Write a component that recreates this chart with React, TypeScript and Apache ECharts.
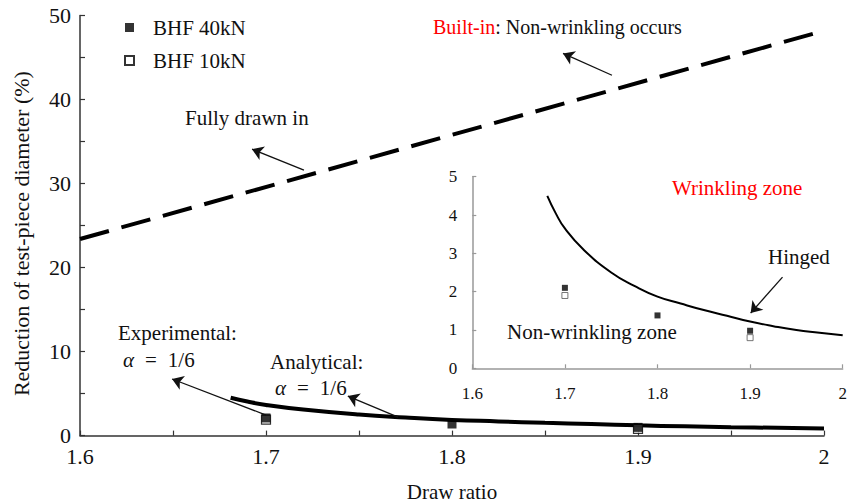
import React, { useEffect, useRef } from 'react';
import * as echarts from 'echarts';

// ---- data ----
const builtInX = [1.6, 2.0];
const builtInY = [23.4, 48.2];

const analyticX = [1.681, 1.69, 1.7, 1.72, 1.75, 1.775, 1.8, 1.825, 1.85, 1.875, 1.9, 1.925, 1.95, 1.975, 2.0];
const analyticY = [4.5, 4.05, 3.65, 3.1, 2.5, 2.15, 1.87, 1.69, 1.52, 1.37, 1.22, 1.1, 1.0, 0.93, 0.86];

const bhf40X = [1.7, 1.8, 1.9];
const bhf40Y = [2.1, 1.38, 0.98];
const bhf10X = [1.7, 1.9];
const bhf10Y = [1.9, 0.8];

const seriesNames = ['BHF 40kN', 'BHF 10kN'];
const xAxisTitle = 'Draw ratio';
const yAxisTitle = 'Reduction of test-piece diameter (%)';

// annotation arrows (data coordinates): [fromX, fromY, toX, toY]
const mainArrows = [
  [1.7204, 31.6, 1.6925, 34.1],
  [1.886, 42.9, 1.8597, 45.5],
  [1.7, 2.45, 1.6495, 6.74],
  [1.771, 2.2, 1.744, 4.7],
];
const insetArrows = [[1.935, 2.38, 1.9006, 1.44]];

const FONT = "'Liberation Serif', 'Times New Roman', serif";

const zip = (xs: number[], ys: number[]) => xs.map((x, i) => [x, ys[i]]);
const fmtX = (v: number) => {
  const r = Math.round(v * 100);
  return r % 10 === 0 ? String(r / 100) : '';
};

export default function App() {
  const ref = useRef<HTMLDivElement>(null);
  useEffect(() => {
    if (!ref.current) return;
    const chart = echarts.init(ref.current, null, { renderer: 'svg' });
    const axisCol = '#333';
    const insetCol = '#999';
    const arrowML = (arr: number[][]) => ({
      silent: true,
      symbol: ['none', 'arrow'],
      symbolSize: 11,
      label: { show: false },
      itemStyle: { color: '#111' },
      lineStyle: { color: '#111', width: 1.3, type: 'solid' },
      emphasis: { disabled: true },
      data: arr.map((a) => [{ coord: [a[0], a[1]] }, { coord: [a[2], a[3]] }]),
    });
    const txt = (text: string, x: number, y: number, extra: any = {}) => ({
      type: 'text',
      x,
      y,
      silent: true,
      style: {
        text,
        fill: '#111',
        font: `21px ${FONT}`,
        textAlign: 'left',
        textVerticalAlign: 'middle',
        ...extra,
      },
    });
    const alphaRich = {
      i: { font: `italic 21px ${FONT}`, fill: '#111' },
      e: { font: `21px ${FONT}`, fill: '#111', padding: [0, 11, 0, 11] },
    };
    chart.setOption({
      animation: false,
      backgroundColor: '#fff',
      textStyle: { fontFamily: FONT },
      grid: [
        { left: 80, right: 38, top: 15.6, bottom: 67.4, outerBoundsMode: 'none', containLabel: false },
        { left: 472.3, right: 19.3, top: 176.7, bottom: 134.7, outerBoundsMode: 'none', containLabel: false },
      ],
      legend: {
        data: seriesNames,
        orient: 'vertical',
        left: 119,
        top: 12,
        itemWidth: 9,
        itemHeight: 9,
        itemGap: 12,
        selectedMode: false,
        textStyle: { fontFamily: FONT, fontSize: 21, color: '#111', padding: [0, 0, 0, 14] },
      },
      xAxis: [
        {
          gridIndex: 0,
          type: 'value',
          min: 1.6,
          max: 2.0,
          interval: 0.05,
          name: xAxisTitle,
          nameLocation: 'middle',
          nameGap: 46,
          nameTextStyle: { fontFamily: FONT, fontSize: 21, color: '#111' },
          splitLine: { show: false },
          axisLine: { lineStyle: { color: axisCol, width: 1.5 } },
          axisTick: { inside: true, length: 5, lineStyle: { color: axisCol, width: 1.2 } },
          axisLabel: { formatter: fmtX, margin: 10, fontSize: 22, color: '#111', fontFamily: FONT },
        },
        {
          gridIndex: 1,
          type: 'value',
          min: 1.6,
          max: 2.0,
          interval: 0.1,
          splitLine: { show: false },
          axisLine: { lineStyle: { color: insetCol, width: 1.5 } },
          axisTick: { inside: true, length: 4, lineStyle: { color: insetCol, width: 1.2 } },
          axisLabel: { formatter: fmtX, margin: 17, fontSize: 17, color: '#111', fontFamily: FONT },
        },
      ],
      yAxis: [
        {
          gridIndex: 0,
          type: 'value',
          min: 0,
          max: 50,
          interval: 5,
          name: yAxisTitle,
          nameLocation: 'middle',
          nameGap: 48,
          nameTextStyle: { fontFamily: FONT, fontSize: 22, color: '#111', padding: [0, 16, 0, 0] },
          splitLine: { show: false },
          axisLine: { show: true, lineStyle: { color: axisCol, width: 1.5 } },
          axisTick: { show: true, inside: true, length: 5, lineStyle: { color: axisCol, width: 1.2 } },
          axisLabel: {
            formatter: (v: number) => (v % 10 === 0 ? String(v) : ''),
            margin: 9,
            fontSize: 22,
            color: '#111',
            fontFamily: FONT,
          },
        },
        {
          gridIndex: 1,
          type: 'value',
          min: 0,
          max: 5,
          interval: 1,
          splitLine: { show: false },
          axisLine: { show: true, lineStyle: { color: insetCol, width: 1.5 } },
          axisTick: { show: true, inside: true, length: 4, lineStyle: { color: insetCol, width: 1.2 } },
          axisLabel: { margin: 15, fontSize: 17, color: '#111', fontFamily: FONT },
        },
      ],
      series: [
        {
          name: 'Built-in',
          type: 'line',
          xAxisIndex: 0,
          yAxisIndex: 0,
          data: zip(builtInX, builtInY),
          showSymbol: false,
          symbol: 'none',
          lineStyle: { color: '#000', width: 4, type: [30, 13], cap: 'butt' },
          markLine: arrowML(mainArrows),
          z: 2,
        },
        {
          name: 'Analytical',
          type: 'line',
          xAxisIndex: 0,
          yAxisIndex: 0,
          data: zip(analyticX, analyticY),
          smooth: true,
          showSymbol: false,
          symbol: 'none',
          lineStyle: { color: '#000', width: 4 },
          z: 2,
        },
        {
          name: seriesNames[1],
          type: 'scatter',
          xAxisIndex: 0,
          yAxisIndex: 0,
          data: zip(bhf10X, bhf10Y),
          symbol: 'rect',
          symbolSize: 9,
          itemStyle: { color: '#fff', borderColor: '#000', borderWidth: 1.2 },
          z: 3,
        },
        {
          name: seriesNames[0],
          type: 'scatter',
          xAxisIndex: 0,
          yAxisIndex: 0,
          data: zip(bhf40X, bhf40Y),
          symbol: 'rect',
          symbolSize: 9,
          itemStyle: { color: '#000' },
          z: 4,
        },
        {
          name: 'Hinged',
          type: 'line',
          xAxisIndex: 1,
          yAxisIndex: 1,
          data: zip(analyticX, analyticY),
          smooth: true,
          showSymbol: false,
          symbol: 'none',
          lineStyle: { color: '#000', width: 2 },
          markLine: arrowML(insetArrows),
          z: 2,
        },
        {
          name: seriesNames[1],
          type: 'scatter',
          xAxisIndex: 1,
          yAxisIndex: 1,
          data: zip(bhf10X, bhf10Y),
          symbol: 'rect',
          symbolSize: 6,
          itemStyle: { color: '#fff', borderColor: '#555', borderWidth: 1 },
          z: 3,
        },
        {
          name: seriesNames[0],
          type: 'scatter',
          xAxisIndex: 1,
          yAxisIndex: 1,
          data: zip(bhf40X, bhf40Y),
          symbol: 'rect',
          symbolSize: 6,
          itemStyle: { color: '#000' },
          z: 4,
        },
      ],
      graphic: [
        txt('Fully drawn in', 185, 118),
        txt('{r|Built-in}: Non-wrinkling occurs', 433, 27, {
          font: `20px ${FONT}`,
          rich: { r: { fill: '#f00', font: `20px ${FONT}` } },
        }),
        txt('Wrinkling zone', 672, 188, { fill: '#f00' }),
        txt('Hinged', 768, 257),
        txt('Non-wrinkling zone', 507, 332),
        txt('Experimental:', 118, 333),
        txt('{i|α}{e|=}1/6', 123, 360, { rich: alphaRich }),
        txt('Analytical:', 270, 362),
        txt('{i|α}{e|=}1/6', 275, 388, { rich: alphaRich }),
      ],
    });
    return () => chart.dispose();
  }, []);
  return (
    <div
      ref={ref}
      style={{ position: 'fixed', left: 0, top: 0, width: 862, height: 503, background: '#fff' }}
    />
  );
}
